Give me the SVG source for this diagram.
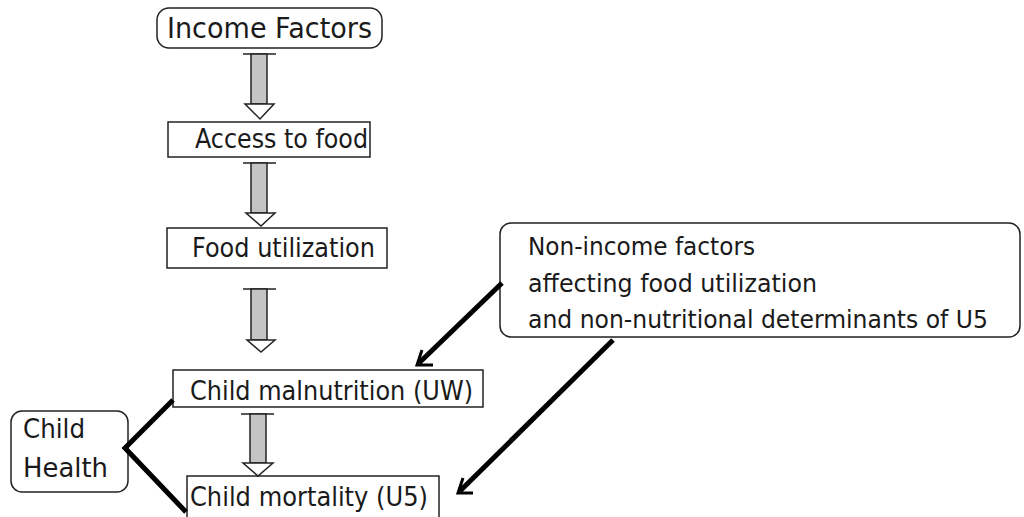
<svg xmlns="http://www.w3.org/2000/svg" width="1024" height="517" viewBox="0 0 1024 517">
<defs>
<style>
.box{fill:#fff;stroke:#222;stroke-width:1.5}
.t{font-family:"Comic Sans MS","DejaVu Sans",sans-serif;font-size:26px;fill:#1a1a1a}
.n{font-size:24.5px}
.conn{stroke:#000;stroke-width:5;fill:none;stroke-linecap:butt}
.head{stroke:#000;stroke-width:3;fill:none}
.cap{stroke:#222;stroke-width:1.5}
.shaft{fill:#c4c4c4;stroke:#222;stroke-width:1.5}
.ahead{fill:#fff;stroke:#222;stroke-width:1.5}
</style>
</defs>
<rect width="1024" height="517" fill="#fff"/>

<g id="income-factors">
<rect class="box" x="157" y="8" width="225" height="40" rx="12"/>
<text class="t" x="167" y="38" style="font-size:28px" textLength="205" lengthAdjust="spacingAndGlyphs">Income Factors</text>
</g>
<g id="access-to-food">
<rect class="box" x="168" y="122" width="202" height="35"/>
<text class="t" x="195" y="148" textLength="173" lengthAdjust="spacingAndGlyphs">Access to food</text>
</g>
<g id="food-utilization">
<rect class="box" x="167" y="228" width="220" height="40"/>
<text class="t" x="192" y="257" textLength="183" lengthAdjust="spacingAndGlyphs">Food utilization</text>
</g>
<g id="child-malnutrition">
<rect class="box" x="173" y="370" width="310" height="37"/>
<text class="t" x="190" y="400" textLength="283" lengthAdjust="spacingAndGlyphs">Child malnutrition (UW)</text>
</g>
<g id="child-mortality">
<rect class="box" x="187" y="476" width="252" height="50"/>
<text class="t" x="190" y="506" textLength="238" lengthAdjust="spacingAndGlyphs">Child mortality (U5)</text>
</g>
<g id="child-health">
<rect class="box" x="11" y="411" width="117" height="81" rx="11"/>
<text class="t" x="23" y="438" textLength="62" lengthAdjust="spacingAndGlyphs">Child</text>
<text class="t" x="23" y="477" textLength="85" lengthAdjust="spacingAndGlyphs">Health</text>
</g>
<g id="non-income-factors">
<rect class="box" x="500" y="223" width="520" height="114" rx="11"/>
<text class="t n" x="528" y="255" textLength="227" lengthAdjust="spacingAndGlyphs">Non-income factors</text>
<text class="t n" x="528" y="292" textLength="289" lengthAdjust="spacingAndGlyphs">affecting food utilization</text>
<text class="t n" x="528" y="328" textLength="460" lengthAdjust="spacingAndGlyphs">and non-nutritional determinants of U5</text>
</g>

<g id="connectors">
<g id="arrow1">
<line class="cap" x1="243" y1="54" x2="276" y2="54"/>
<rect class="shaft" x="251" y="54" width="16" height="50"/>
<polygon class="ahead" points="245,104 274,104 260,119"/>
</g>
<g id="arrow2">
<line class="cap" x1="243" y1="163" x2="276" y2="163"/>
<rect class="shaft" x="251" y="163" width="16" height="50"/>
<polygon class="ahead" points="246,213 275,213 261,226"/>
</g>
<g id="arrow3">
<line class="cap" x1="243" y1="289" x2="276" y2="289"/>
<rect class="shaft" x="251" y="289" width="16" height="51"/>
<polygon class="ahead" points="247,340 275,340 261,352"/>
</g>
<g id="arrow4">
<line class="cap" x1="241" y1="414" x2="274" y2="414"/>
<rect class="shaft" x="250" y="414" width="16" height="49"/>
<polygon class="ahead" points="243,463 273,463 258,476"/>
</g>
<polyline class="conn" points="173,400 125,448 186,512"/>
<line class="conn" x1="502" y1="283" x2="419" y2="363"/>
<polyline class="head" points="422,350 417,365 433,365"/>
<line class="conn" x1="613" y1="340" x2="460" y2="491"/>
<polyline class="head" points="463,478 458,493 473,493"/>
</g>
</svg>
